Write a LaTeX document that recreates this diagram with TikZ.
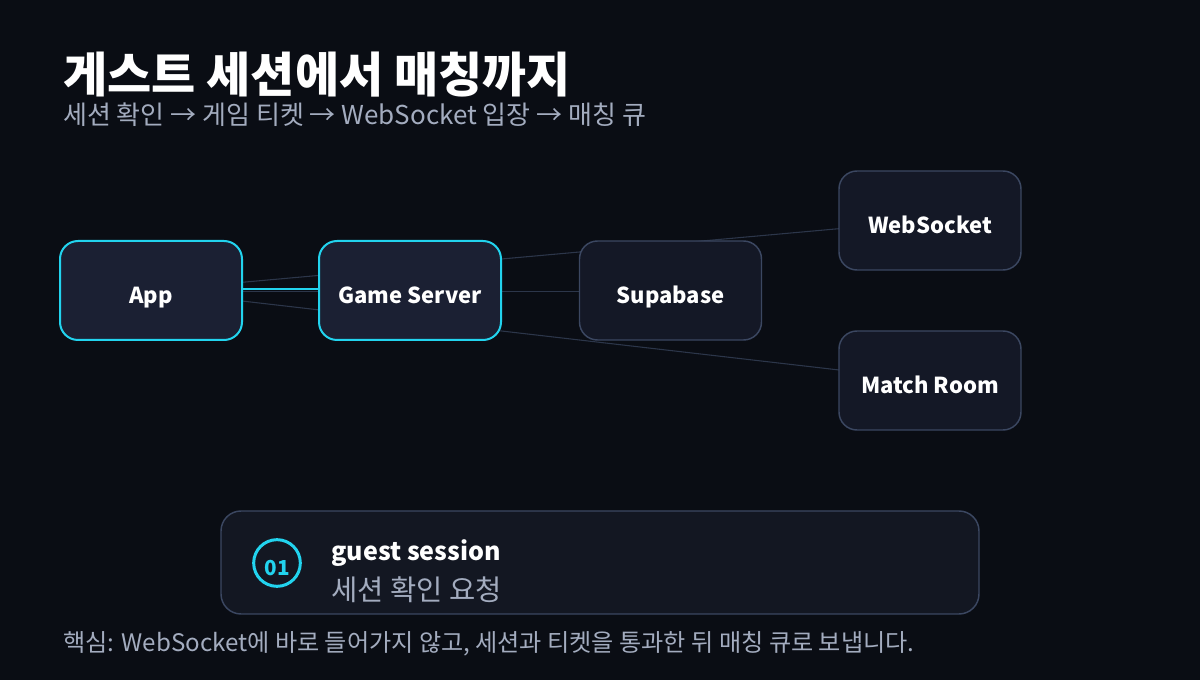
\documentclass[tikz,border=0pt]{standalone}
\usepackage{fontspec}
\setmainfont{Noto Sans CJK KR}
\usepackage{xcolor}
\usepackage{tikz}

\definecolor{bgdark}{HTML}{0A0D14}
\definecolor{cyanline}{HTML}{22D3EE}
\definecolor{edgegray}{HTML}{2C364A}
\definecolor{boxgray}{HTML}{3B4761}
\definecolor{fillhot}{HTML}{1B2033}
\definecolor{fillcold}{HTML}{141826}
\definecolor{cardfill}{HTML}{131722}
\definecolor{subgray}{HTML}{A3ACBF}

\pgfdeclarelayer{bg}
\pgfdeclarelayer{edges}
\pgfsetlayers{bg,edges,main}

\tikzset{
  hotbox/.style={draw=cyanline, line width=1.5pt, fill=fillhot, rounded corners=13.5pt,
    minimum width=136.5pt, minimum height=74.25pt, text height=19.5pt, text depth=0pt,
    text=white, font=\fontsize{16.5}{18}\selectfont\bfseries},
  coldbox/.style={draw=boxgray, line width=1.1pt, fill=fillcold, rounded corners=13.5pt,
    minimum width=136.5pt, minimum height=74.25pt, text height=19.5pt, text depth=0pt,
    text=white, font=\fontsize{16.5}{18}\selectfont\bfseries},
  edgeline/.style={draw=edgegray, line width=0.8pt},
  hotline/.style={draw=cyanline, line width=1.5pt},
}

\begin{document}
\begin{tikzpicture}[x=0.75pt,y=0.75pt,yscale=-1,xscale=1]
%set diagram size 1200 x 680
\begin{pgfonlayer}{bg}
\fill[bgdark] (0,0) rectangle (1200,680);
\end{pgfonlayer}

%Shape: Rounded Rectangle [id:app] 
\draw (151,290.5) node (app) [hotbox] {App};
%Shape: Rounded Rectangle [id:gs] 
\draw (410,290.5) node (gs) [hotbox] {Game Server};
%Shape: Rounded Rectangle [id:supa] 
\draw (670.5,290.5) node (supa) [coldbox] {Supabase};
%Shape: Rounded Rectangle [id:ws] 
\draw (930,220.5) node (ws) [coldbox] {WebSocket};
%Shape: Rounded Rectangle [id:mr] 
\draw (930,380.5) node (mr) [coldbox] {Match Room};

%Straight Lines [id:edges] 
\begin{pgfonlayer}{edges}
\draw [edgeline] (app.center) -- (ws.center) ;
\draw [edgeline] (app.center) -- (mr.center) ;
\draw [edgeline] ([yshift=0.75pt]app.center) -- ([yshift=0.75pt]supa.center) ;
\draw [hotline] ([yshift=-0.9pt]app.center) -- ([yshift=-0.9pt]gs.center) ;
\end{pgfonlayer}

%Shape: Rounded Rectangle [id:card] 
\draw (600,562.5) node (card) [draw=boxgray, line width=1.1pt, fill=cardfill, rounded corners=15pt, minimum width=568.5pt, minimum height=77.25pt] {};
%Shape: Circle [id:num] 
\draw (277,563) node (num) [circle, draw=cyanline, line width=2.25pt, minimum size=35pt, inner sep=0pt, text height=19pt, text depth=0pt, text=cyanline, font=\fontsize{15.5}{17}\selectfont\bfseries] {01};

% Text Node
\draw (63,93) node (title) [anchor=base west, inner sep=0pt, text=white, font=\fontsize{36}{40}\selectfont\bfseries] {게스트 세션에서 매칭까지};
% Text Node
\draw (63,125) node (subtitle) [anchor=base west, inner sep=0pt, text=subgray, font=\fontsize{19.5}{22}\selectfont] {세션 확인 → 게임 티켓 → WebSocket 입장 → 매칭 큐};
% Text Node
\draw (331,561) node (steptitle) [anchor=base west, inner sep=0pt, text=white, font=\fontsize{18.8}{21}\selectfont\bfseries] {guest session};
% Text Node
\draw (331,601) node (stepnote) [anchor=base west, inner sep=0pt, text=subgray, font=\fontsize{21.4}{24}\selectfont] {세션 확인 요청};
% Text Node
\draw (63,652) node (footer) [anchor=base west, inner sep=0pt, text=subgray, font=\fontsize{18.1}{20}\selectfont] {핵심: WebSocket에 바로 들어가지 않고, 세션과 티켓을 통과한 뒤 매칭 큐로 보냅니다.};
\end{tikzpicture}
\end{document}
